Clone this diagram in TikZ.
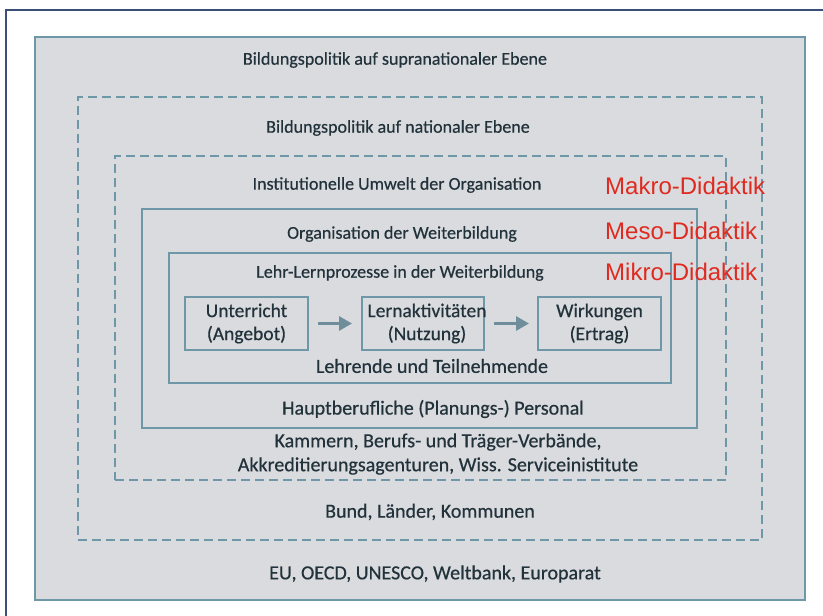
\documentclass[tikz,border=0pt]{standalone}
\usepackage{fontspec}
\setmainfont{Carlito}[FakeBold=0.5]
\newfontfamily\redfont{Liberation Sans}
\usetikzlibrary{arrows.meta}
\definecolor{framenavy}{HTML}{3B5078}
\definecolor{boxline}{HTML}{6E98A8}
\definecolor{boxfill}{HTML}{D9DBDE}
\definecolor{inktext}{HTML}{22323B}
\definecolor{arrowgray}{HTML}{6F8E9C}
\definecolor{didred}{HTML}{E02A20}
\tikzset{
  layer/.style={draw=boxline, line width=2pt, fill=boxfill, inner sep=0pt, rectangle},
  dashlayer/.style={layer, dash pattern=on 9pt off 5pt},
  stagebox/.style={draw=boxline, line width=2pt, inner sep=0pt, rectangle,
    minimum width=123pt, minimum height=53pt},
  headtext/.style={text=inktext, font=\fontsize{18}{20}\selectfont, inner sep=0pt},
  bodytext/.style={text=inktext, font=\fontsize{20}{24}\selectfont, inner sep=0pt, align=center},
  stagetext/.style={text=inktext, font=\fontsize{19.5}{23}\selectfont, inner sep=0pt, align=center},
  levellabel/.style={text=didred, font=\redfont\fontsize{24}{26}\selectfont, inner sep=0pt, anchor=west},
  flow/.style={draw=arrowgray, line width=3pt, -{Triangle[length=13pt,width=14pt]}}
}
\begin{document}
\begin{tikzpicture}[x=1pt, y=-1pt]
\useasboundingbox (0,0) rectangle (823,616);
\fill[white] (0,0) rectangle (823,616);
% page frame (top and left rules)
\coordinate (ftr) at (823,10);
\coordinate (ftl) at (6,10);
\coordinate (fbl) at (6,616);
\draw[framenavy, line width=1.5pt] (ftr) -- (ftl) -- (fbl);

% nested levels
\node[layer, minimum width=770pt, minimum height=563pt] (supra) at (420,318.5) {};
\node[dashlayer, minimum width=684pt, minimum height=443pt] (national) at (420,318.5) {};
\node[dashlayer, minimum width=611pt, minimum height=324pt] (umwelt) at (420.5,318) {};
\node[layer, minimum width=555pt, minimum height=219pt] (orga) at (419.5,318.5) {};
\node[layer, minimum width=502pt, minimum height=130pt] (lehrlern) at (420,318) {};

% stages of the teaching-learning process
\node[stagebox] (unterricht) at (246.5,323.5) {};
\node[stagebox, minimum width=122pt] (lernakt) at (423,323.5) {};
\node[stagebox] (wirkung) at (599.5,323.5) {};
\node[stagetext] (tU) at (246.5,323.5) {Unterricht\\(Angebot)};
\node[stagetext] (tL) at (427,323.5) {Lernaktivitäten\\(Nutzung)};
\node[stagetext] (tW) at (599.5,323.5) {Wirkungen\\(Ertrag)};
\draw[flow, shorten <=9pt, shorten >=9pt] (unterricht.east) -- (lernakt.west);
\draw[flow, shorten <=9pt, shorten >=8pt] (lernakt.east) -- (wirkung.west);

% level headings
\node[headtext] (h1) at (395,60) {Bildungspolitik auf supranationaler Ebene};
\node[headtext] (h2) at (398,128) {Bildungspolitik auf nationaler Ebene};
\node[headtext] (h3) at (397,185) {Institutionelle Umwelt der Organisation};
\node[headtext] (h4) at (402,234) {Organisation der Weiterbildung};
\node[headtext] (h5) at (400,273) {Lehr-Lernprozesse in der Weiterbildung};

% actors of each level
\node[bodytext] (a5) at (432,366) {Lehrende und Teilnehmende};
\node[bodytext] (a4) at (433,409) {Hauptberufliche (Planungs-) Personal};
\node[bodytext] (a3) at (438,454) {Kammern, Berufs- und Träger-Verbände,\\Akkreditierungsagenturen, Wiss. Serviceinistitute};
\node[bodytext] (a2) at (430,512) {Bund, Länder, Kommunen};
\node[bodytext] (a1) at (435,574) {EU, OECD, UNESCO, Weltbank, Europarat};

% didactic levels
\node[levellabel] (makro) at (605,186) {Makro-Didaktik};
\node[levellabel] (meso) at (605,231) {Meso-Didaktik};
\node[levellabel] (mikro) at (605,272) {Mikro-Didaktik};
\end{tikzpicture}
\end{document}
